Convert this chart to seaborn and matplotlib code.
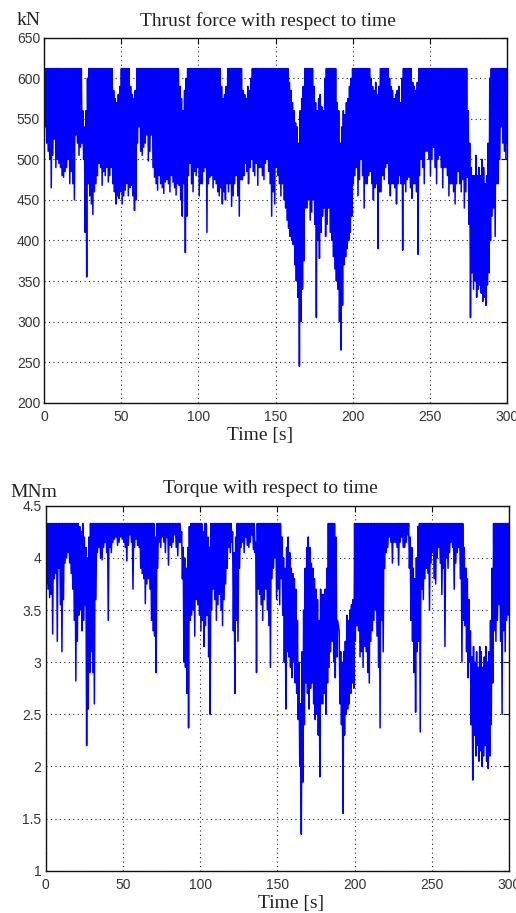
import numpy as np
import pandas as pd
import matplotlib
matplotlib.use("Agg")
import matplotlib.pyplot as plt
import seaborn as sns

# ---- data, per second 0..300 s ----
# upper and lower excursion of the rapidly oscillating signal within each second
thrust_peak = [
    612, 612, 612, 612, 612, 612, 612, 612, 612, 612,
    612, 612, 612, 612, 612, 612, 612, 612, 612, 612,
    612, 612, 612, 612, 612, 560, 540, 560, 600, 612,
    612, 612, 612, 612, 612, 612, 612, 612, 612, 612,
    612, 612, 612, 612, 612, 585, 575, 570, 580, 590,
    612, 612, 612, 612, 612, 612, 590, 580, 575, 585,
    612, 612, 612, 612, 612, 612, 612, 612, 612, 612,
    612, 612, 612, 612, 612, 612, 612, 612, 612, 612,
    612, 612, 612, 612, 612, 612, 612, 612, 590, 575,
    560, 585, 600, 612, 612, 612, 612, 612, 612, 612,
    612, 612, 612, 612, 612, 612, 612, 612, 612, 612,
    612, 612, 612, 612, 612, 590, 575, 580, 590, 612,
    612, 612, 612, 612, 612, 612, 612, 612, 612, 585,
    580, 575, 590, 585, 600, 612, 612, 612, 612, 612,
    612, 612, 612, 612, 612, 612, 612, 612, 612, 612,
    612, 612, 612, 612, 612, 612, 612, 612, 612, 595,
    585, 570, 560, 545, 540, 520, 560, 575, 590, 612,
    612, 612, 612, 612, 612, 590, 570, 560, 575, 580,
    565, 560, 600, 612, 612, 612, 612, 612, 612, 612,
    570, 560, 520, 540, 560, 555, 570, 575, 590, 600,
    612, 612, 612, 612, 612, 612, 612, 612, 612, 612,
    612, 612, 600, 590, 585, 595, 580, 590, 612, 612,
    612, 612, 612, 612, 600, 590, 585, 575, 580, 585,
    590, 570, 600, 612, 612, 612, 612, 612, 612, 595,
    590, 585, 595, 612, 612, 612, 612, 612, 612, 612,
    612, 612, 612, 612, 612, 612, 612, 612, 612, 612,
    612, 612, 612, 612, 612, 612, 612, 612, 612, 612,
    612, 612, 612, 612, 612, 560, 520, 490, 480, 480,
    505, 480, 490, 480, 500, 490, 470, 480, 520, 600,
    612, 612, 612, 612, 612, 612, 612, 612, 612, 612,
    612,
]
thrust_trough = [
    540, 520, 510, 500, 465, 505, 525, 490, 500, 495,
    490, 480, 478, 485, 490, 500, 470, 485, 470, 450,
    530, 520, 505, 515, 520, 500, 410, 355, 470, 455,
    445, 432, 460, 470, 480, 495, 490, 468, 485, 480,
    490, 472, 480, 490, 470, 460, 445, 455, 452, 460,
    445, 455, 462, 470, 455, 465, 468, 455, 437, 450,
    520, 540, 510, 505, 515, 520, 530, 498, 510, 530,
    490, 478, 470, 462, 480, 470, 465, 458, 472, 475,
    470, 460, 480, 472, 465, 456, 470, 468, 450, 430,
    470, 385, 430, 480, 495, 470, 460, 485, 480, 490,
    455, 470, 470, 485, 490, 410, 470, 478, 480, 465,
    475, 470, 460, 455, 465, 445, 460, 450, 470, 460,
    470, 442, 455, 470, 480, 455, 430, 475, 475, 480,
    495, 485, 470, 490, 500, 485, 480, 495, 468, 490,
    490, 480, 475, 495, 500, 485, 470, 430, 460, 445,
    490, 480, 470, 455, 470, 450, 440, 425, 415, 405,
    400, 395, 370, 350, 330, 245, 300, 340, 375, 440,
    440, 450, 425, 435, 450, 420, 305, 400, 378, 410,
    430, 440, 405, 420, 440, 410, 400, 380, 365, 350,
    340, 300, 265, 320, 370, 380, 390, 400, 410, 430,
    470, 480, 490, 455, 475, 500, 480, 440, 470, 470,
    480, 485, 470, 450, 465, 470, 390, 460, 460, 480,
    475, 490, 495, 470, 455, 470, 470, 465, 445, 470,
    480, 470, 388, 470, 460, 475, 478, 465, 452, 470,
    470, 460, 383, 480, 500, 490, 470, 510, 510, 500,
    480, 500, 515, 490, 470, 500, 505, 490, 465, 490,
    490, 480, 455, 470, 470, 460, 445, 470, 485, 470,
    460, 475, 440, 460, 478, 420, 305, 360, 340, 350,
    330, 340, 345, 335, 325, 330, 320, 345, 360, 400,
    430, 440, 405, 470, 470, 500, 540, 520, 510, 500,
    520,
]

torque_peak = [
    4.25, 4.33, 4.33, 4.33, 4.33, 4.33, 4.33, 4.33, 4.33, 4.33,
    4.33, 4.33, 4.33, 4.33, 4.33, 4.33, 4.33, 4.33, 4.33, 4.33,
    4.33, 4.33, 4.30, 4.25, 4.33, 4.20, 4.10, 4.00, 4.20, 4.33,
    4.33, 4.33, 4.33, 4.33, 4.33, 4.33, 4.33, 4.33, 4.33, 4.33,
    4.33, 4.33, 4.33, 4.33, 4.33, 4.33, 4.33, 4.33, 4.33, 4.33,
    4.33, 4.33, 4.33, 4.33, 4.33, 4.33, 4.33, 4.33, 4.33, 4.33,
    4.33, 4.33, 4.33, 4.33, 4.33, 4.33, 4.33, 4.33, 4.33, 4.33,
    4.33, 4.20, 4.33, 4.33, 4.33, 4.33, 4.33, 4.33, 4.33, 4.33,
    4.33, 4.33, 4.33, 4.33, 4.33, 4.33, 4.33, 4.33, 4.25, 4.10,
    4.00, 3.90, 4.10, 4.30, 4.33, 4.33, 4.33, 4.33, 4.33, 4.33,
    4.33, 4.33, 4.25, 4.33, 4.33, 4.20, 4.10, 4.33, 4.33, 4.33,
    4.33, 4.33, 4.33, 4.33, 4.33, 4.33, 4.33, 4.33, 4.33, 4.33,
    4.33, 4.25, 4.05, 4.20, 4.33, 4.33, 4.33, 4.33, 4.33, 4.33,
    4.33, 4.33, 4.33, 4.33, 4.33, 4.33, 4.15, 4.33, 4.33, 4.33,
    4.33, 4.33, 4.33, 4.33, 4.33, 4.33, 4.33, 4.33, 4.33, 4.33,
    4.33, 4.33, 4.33, 4.20, 4.00, 3.90, 4.10, 4.20, 4.05, 3.90,
    3.85, 3.80, 3.70, 3.40, 3.00, 2.60, 3.10, 3.50, 3.90, 4.10,
    4.20, 4.10, 3.95, 3.90, 3.80, 3.70, 3.60, 3.40, 3.70, 3.65,
    3.65, 3.70, 3.90, 4.33, 4.33, 4.33, 4.33, 4.33, 4.20, 3.40,
    3.30, 3.10, 3.00, 3.10, 3.20, 3.45, 3.40, 3.50, 3.55, 3.60,
    4.33, 4.33, 4.33, 4.33, 4.33, 4.33, 4.33, 4.33, 4.33, 4.33,
    4.33, 4.33, 4.33, 4.33, 4.33, 4.33, 4.33, 4.33, 4.33, 4.33,
    4.33, 4.33, 4.33, 4.33, 4.33, 4.33, 4.33, 4.33, 4.33, 4.33,
    4.33, 4.33, 4.33, 4.33, 4.33, 4.33, 4.20, 4.10, 3.90, 3.80,
    4.00, 4.30, 4.33, 4.33, 4.33, 4.33, 4.33, 4.33, 4.33, 4.33,
    4.33, 4.33, 4.33, 4.33, 4.33, 4.33, 4.33, 4.33, 4.33, 4.33,
    4.33, 4.33, 4.33, 4.33, 4.33, 4.33, 4.33, 4.33, 4.33, 4.33,
    4.33, 4.10, 3.90, 3.80, 3.60, 3.30, 3.05, 3.15, 3.00, 3.10,
    2.95, 3.15, 3.10, 2.95, 3.05, 3.15, 3.00, 3.10, 3.40, 3.90,
    4.33, 4.33, 4.33, 4.33, 4.33, 4.33, 4.33, 4.33, 4.33, 4.33,
    4.33,
]
torque_trough = [
    3.75, 3.70, 3.62, 3.65, 3.27, 3.80, 3.85, 3.20, 3.90, 3.55,
    3.10, 3.60, 3.95, 4.00, 4.05, 3.95, 3.85, 3.70, 3.40, 2.82,
    3.20, 3.45, 3.50, 3.30, 3.40, 3.55, 2.20, 2.55, 2.90, 3.10,
    2.90, 2.60, 3.60, 4.05, 4.10, 4.00, 3.98, 4.10, 4.15, 4.05,
    3.40, 4.10, 4.05, 4.15, 4.18, 4.20, 4.12, 4.15, 4.20, 4.18,
    4.15, 4.10, 3.97, 4.12, 4.22, 4.15, 3.70, 4.10, 4.18, 4.12,
    4.10, 3.90, 3.85, 3.80, 3.56, 3.75, 3.80, 3.70, 3.40, 3.30,
    3.25, 2.90, 3.90, 4.15, 4.10, 4.20, 4.15, 4.05, 4.20, 3.93,
    4.12, 4.10, 4.15, 4.22, 4.10, 4.02, 4.15, 4.15, 3.80, 3.00,
    2.95, 2.70, 2.37, 3.40, 3.45, 3.50, 3.25, 3.60, 3.55, 3.45,
    3.30, 3.40, 3.15, 3.35, 3.45, 3.05, 2.50, 3.50, 3.70, 3.60,
    3.40, 3.55, 3.65, 3.50, 3.35, 3.60, 3.75, 3.90, 4.10, 4.05,
    4.15, 3.30, 2.70, 3.40, 3.20, 3.90, 4.10, 4.15, 4.05, 4.20,
    4.12, 4.10, 4.15, 4.22, 4.08, 4.05, 2.90, 3.70, 3.65, 3.55,
    3.40, 3.60, 3.70, 3.50, 3.35, 2.95, 3.80, 3.90, 4.00, 3.60,
    3.70, 3.55, 3.80, 3.45, 3.00, 2.55, 3.10, 3.05, 2.95, 2.85,
    3.00, 2.80, 2.70, 2.45, 2.00, 1.35, 1.85, 2.40, 2.80, 2.70,
    2.55, 2.75, 2.80, 2.60, 2.45, 2.50, 2.30, 1.90, 2.60, 2.60,
    2.70, 2.50, 2.80, 2.95, 3.10, 3.20, 3.00, 2.85, 3.05, 3.35,
    2.60, 2.40, 1.55, 2.30, 2.50, 2.55, 2.60, 2.70, 2.80, 2.75,
    3.20, 3.35, 3.30, 3.05, 3.10, 2.95, 3.15, 3.10, 2.90, 2.80,
    3.20, 3.30, 3.40, 3.50, 3.25, 2.95, 2.37, 3.40, 3.10, 3.90,
    4.05, 4.10, 4.20, 4.15, 3.95, 4.15, 4.15, 4.10, 3.93, 4.15,
    4.20, 4.10, 4.10, 4.15, 4.22, 3.90, 3.40, 3.20, 2.90, 2.52,
    3.10, 3.20, 2.33, 3.70, 3.60, 3.80, 3.90, 3.85, 3.50, 3.95,
    4.05, 3.80, 3.75, 4.00, 4.10, 3.95, 3.65, 3.90, 3.15, 4.00,
    3.90, 4.05, 4.15, 4.10, 3.70, 3.95, 4.05, 4.10, 3.80, 3.00,
    3.40, 3.35, 3.10, 2.85, 3.00, 2.40, 1.87, 2.30, 2.10, 2.20,
    2.05, 2.15, 2.00, 2.10, 2.20, 2.05, 1.98, 2.10, 2.40, 2.80,
    3.30, 3.20, 3.40, 3.55, 3.20, 2.50, 3.30, 3.10, 3.40, 3.45,
    3.30,
]

seconds = list(range(0, 301))

x_ticks = [0, 50, 100, 150, 200, 250, 300]
thrust_ticks = [200, 250, 300, 350, 400, 450, 500, 550, 600, 650]
torque_ticks = [1, 1.5, 2, 2.5, 3, 3.5, 4, 4.5]
torque_labels = ["1", "1.5", "2", "2.5", "3", "3.5", "4", "4.5"]


def oscillating(peak, trough):
    # peak at the start of each second, trough half a second later
    t, v = [], []
    for s, p, q in zip(seconds, peak, trough):
        t += [s, s + 0.5]
        v += [p, q]
    return pd.DataFrame({"t": t, "v": v})


df_thrust = oscillating(thrust_peak, thrust_trough)
df_torque = oscillating(torque_peak, torque_trough)

sns.set_style("white")
plt.rcParams["font.family"] = ["Liberation Sans", "DejaVu Sans"]

fig = plt.figure(figsize=(5.16, 9.13), dpi=100)
ax1 = fig.add_axes([0.0859, 0.5589, 0.8961, 0.3998])
ax2 = fig.add_axes([0.0886, 0.0463, 0.8979, 0.3998])

serif = ["Liberation Serif", "DejaVu Serif"]


def style(ax, yticks, ylabels, ylim):
    ax.set_xlim(0, 300)
    ax.set_ylim(*ylim)
    ax.set_xticks(x_ticks)
    ax.set_yticks(yticks)
    ax.set_xticklabels([str(v) for v in x_ticks])
    ax.set_yticklabels(ylabels)
    ax.grid(True, color="#222222", linestyle=(0, (1, 3)), linewidth=0.8)
    ax.set_axisbelow(True)
    for s in ax.spines.values():
        s.set_visible(True)
        s.set_color("#111111")
        s.set_linewidth(1.0)
    ax.tick_params(direction="in", length=4, width=0.8, top=True, right=True,
                   labelsize=10, colors="#111111", labelcolor="#333333")
    ax.tick_params(axis="y", pad=3)
    ax.tick_params(axis="x", pad=5)
    ax.set_xlabel("")
    ax.set_ylabel("")


sns.lineplot(data=df_thrust, x="t", y="v", ax=ax1, color="#0000FF",
             linewidth=1.1, estimator=None, sort=False)
style(ax1, thrust_ticks, [str(v) for v in thrust_ticks], (200, 650))

sns.lineplot(data=df_torque, x="t", y="v", ax=ax2, color="#0000FF",
             linewidth=1.1, estimator=None, sort=False)
style(ax2, torque_ticks, torque_labels, (1, 4.5))

W, H = 516, 913


def ftext(x, y, s, size, ha="center"):
    fig.text(x / W, 1 - y / H, s, fontsize=size, family=serif,
             ha=ha, va="baseline", color="#222222")


ftext(268, 26, "Thrust force with respect to time", 14)
ftext(17, 25, "kN", 14, ha="left")
ftext(260, 440, "Time [s]", 14)

ftext(270, 493, "Torque with respect to time", 14)
ftext(10, 497, "MNm", 14, ha="left")
ftext(291, 908, "Time [s]", 14)

fig.savefig("out.png", dpi=100)
